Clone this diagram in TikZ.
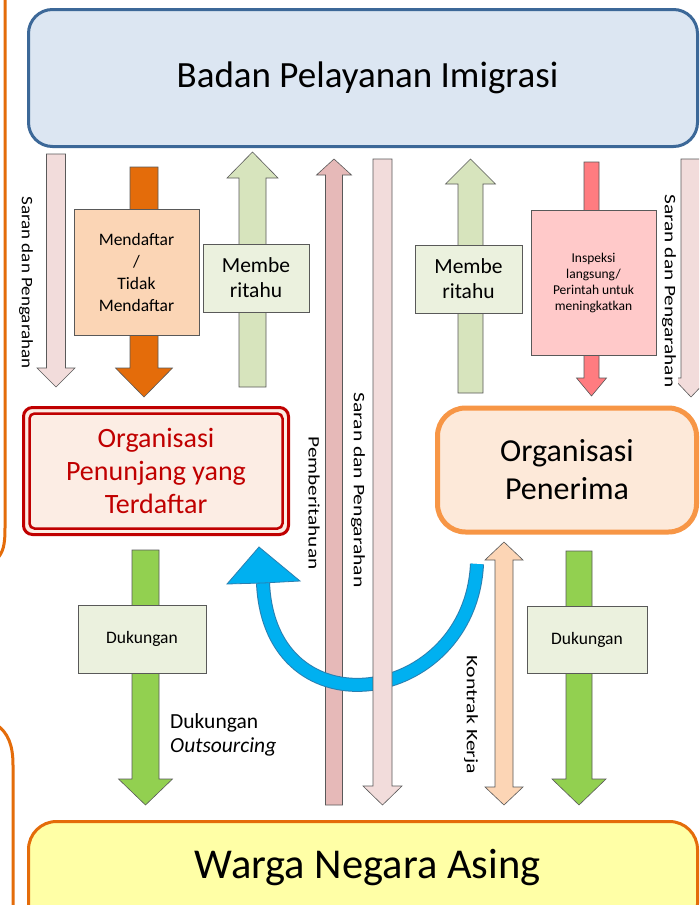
\documentclass[tikz,border=0pt]{standalone}
\usepackage{fontspec}
\setmainfont{Carlito}
\usepackage{graphicx}
\definecolor{topfill}{HTML}{DCE6F2}
\definecolor{topdraw}{HTML}{3C6898}
\definecolor{saranfill}{HTML}{F2DCDB}
\definecolor{orangearrow}{HTML}{E46C0A}
\definecolor{peach}{HTML}{FBD5B5}
\definecolor{greenlight}{HTML}{D7E4BD}
\definecolor{greenbox}{HTML}{EBF1DE}
\definecolor{pemfill}{HTML}{E6B9B8}
\definecolor{redarrow}{HTML}{FF7C80}
\definecolor{redbox}{HTML}{FFC9C9}
\definecolor{greendark}{HTML}{92D050}
\definecolor{bluearc}{HTML}{00B0F0}
\definecolor{blueline}{HTML}{2A7FB0}
\definecolor{kontrakfill}{HTML}{FCD5B5}
\definecolor{penred}{HTML}{C00000}
\definecolor{penfill}{HTML}{FCEDE4}
\definecolor{terimafill}{HTML}{FDE9D9}
\definecolor{terimadraw}{HTML}{F79646}
\definecolor{wargafill}{HTML}{FFFFA6}
\definecolor{wargadraw}{HTML}{E46C0A}
\definecolor{outline}{HTML}{595959}
\newcommand{\myblockarrow}[7]{%
  \draw[#7] ({#1-#2},#4) -- ({#1+#2},#4) -- ({#1+#2},#5) -- ({#1+#3},#5) -- (#1,#6) -- ({#1-#3},#5) -- ({#1-#2},#5) -- cycle;}
\newcommand{\mydoublearrow}[8]{%
  \draw[#8] ({#1-#2},#5) -- ({#1-#3},#5) -- (#1,#4) -- ({#1+#3},#5) -- ({#1+#2},#5) -- ({#1+#2},#6) -- ({#1+#3},#6) -- (#1,#7) -- ({#1-#3},#6) -- ({#1-#2},#6) -- cycle;}
\tikzset{
  arrowshape/.style={draw=outline, line width=0.6pt, line join=miter, fill=#1},
  smallbox/.style={draw=outline, line width=0.6pt, fill=#1, inner sep=0pt, align=center},
  vlabel/.style={rotate=-90, inner sep=0pt, font=\fontsize{16}{19}\selectfont},
  orangeedge/.style={draw=wargadraw, line width=3pt},
}
\begin{document}
\begin{tikzpicture}[x=1pt, y=-1pt]
\useasboundingbox (0,0) rectangle (699,905);
\clip (0,0) rectangle (699,905);
\fill[white] (0,0) rectangle (699,905);

% left orange edges
\draw[orangeedge] (5,-5) -- (5,528) .. controls (5,546) and (3,552) .. (-3,559);
\draw[orangeedge] (-3,725) .. controls (8,733) and (13,745) .. (13,765) -- (13,915);

% top box
\node[draw=topdraw, line width=3pt, fill=topfill, rounded corners=24pt, minimum width=669pt, minimum height=137pt, inner sep=0pt] (badan) at (363,78) {};
\node[anchor=base, inner sep=0pt, font=\fontsize{37}{44}\selectfont] (badantext) at (367.5,87) {Badan Pelayanan Imigrasi};

% upper arrows
\myblockarrow{56}{9.5}{19}{154}{368}{387}{arrowshape=saranfill}
\myblockarrow{144}{14}{28.5}{167}{368}{397}{arrowshape=orangearrow}
\myblockarrow{252.5}{13.5}{25.5}{387}{178}{152}{arrowshape=greenlight}
\myblockarrow{334}{8.5}{17.5}{805}{175}{159}{arrowshape=pemfill}

% blue curved arrow
\draw[blueline, line width=14pt] (477,564) .. controls (470,706) and (270,736) .. (263,583);
\draw[bluearc, line width=12pt] (477,564) .. controls (470,706) and (270,736) .. (263,583);
\draw[fill=bluearc, draw=blueline, line width=0.8pt, line join=miter] (227,584) -- (259,547) -- (300,581) -- (263,583) -- cycle;

\myblockarrow{382.5}{9.5}{19.5}{159}{786}{805}{arrowshape=saranfill}
\myblockarrow{470.5}{12.5}{25}{393}{184}{159}{arrowshape=greenlight}
\myblockarrow{591.5}{7.5}{15}{162}{378}{396}{arrowshape=redarrow}
\myblockarrow{691}{10}{18}{159}{378}{397}{arrowshape=saranfill}

% lower arrows
\myblockarrow{145.5}{13.5}{27}{550}{779}{805}{arrowshape=greendark}
\myblockarrow{579}{13}{27}{551}{779}{805}{arrowshape=greendark}
\mydoublearrow{504}{9}{19}{542}{560}{787}{805}{arrowshape=kontrakfill}

% boxes on arrows
\node[smallbox=peach, minimum width=125pt, minimum height=126pt, font=\fontsize{17.5}{22}\selectfont] (daftar) at (136.5,272) {Mendaftar\\/\\Tidak\\Mendaftar};
\node[smallbox=greenbox, minimum width=106pt, minimum height=68pt, font=\fontsize{21.5}{25}\selectfont] (membeL) at (256,278) {Membe\\ritahu};
\node[smallbox=greenbox, minimum width=107pt, minimum height=68pt, font=\fontsize{21.5}{25}\selectfont] (membeR) at (468.5,279) {Membe\\ritahu};
\node[smallbox=redbox, minimum width=125pt, minimum height=145pt, font=\fontsize{13.5}{16}\selectfont] (inspeksi) at (593.5,283) {Inspeksi\\langsung/\\Perintah untuk\\meningkatkan};
\node[smallbox=greenbox, minimum width=128pt, minimum height=68pt, font=\fontsize{17.5}{20}\selectfont] (dukL) at (142,639) {Dukungan};
\node[smallbox=greenbox, minimum width=120pt, minimum height=67pt, font=\fontsize{17.5}{20}\selectfont] (dukR) at (587,639.5) {Dukungan};

% vertical labels
\node[vlabel] (saranL) at (26,282.5) {\scalebox{1.19}[1]{Saran dan Pengarahan}};
\node[vlabel] (pember) at (314,503) {\scalebox{1.33}[1]{Pemberitahuan}};
\node[vlabel] (saranM) at (358,490) {\scalebox{1.35}[1]{Saran dan Pengarahan}};
\node[vlabel, fill=white, inner sep=2pt] (saranR) at (669,291) {\scalebox{1.33}[1]{Saran dan Pengarahan}};
\node[vlabel] (kontrak) at (471,715) {\scalebox{1.36}[1]{Kontrak Kerja}};

% Dukungan Outsourcing label
\node[anchor=west, align=left, inner sep=0pt, font=\fontsize{21.5}{24}\selectfont] (outs) at (170,735) {Dukungan\\\textit{Outsourcing}};

% Organisasi Penunjang yang Terdaftar
\node[draw=penred, line width=3pt, fill=penfill, rounded corners=9pt, minimum width=265pt, minimum height=127pt, inner sep=0pt, outer sep=0pt, text=penred, align=center, font=\fontsize{28}{33}\selectfont] (penunjang) at (156,471) {Organisasi\\Penunjang yang\\Terdaftar};
\draw[penred, line width=2.5pt, rounded corners=5pt] ([shift={(6pt,-6pt)}]penunjang.north west) rectangle ([shift={(-6pt,6pt)}]penunjang.south east);

% Organisasi Penerima
\node[draw=terimadraw, line width=5pt, fill=terimafill, rounded corners=28pt, minimum width=259pt, minimum height=124pt, inner sep=0pt, align=center, font=\fontsize{32}{38}\selectfont] (penerima) at (567,470) {Organisasi\\Penerima};

% Warga Negara Asing
\node[draw=wargadraw, line width=3pt, fill=wargafill, rounded corners=28pt, minimum width=669pt, minimum height=110pt, inner sep=0pt] (warga) at (363,876.5) {};
\node[anchor=base, inner sep=0pt, font=\fontsize{42.5}{50}\selectfont] (wargatext) at (367.5,878) {Warga Negara Asing};
\end{tikzpicture}
\end{document}
